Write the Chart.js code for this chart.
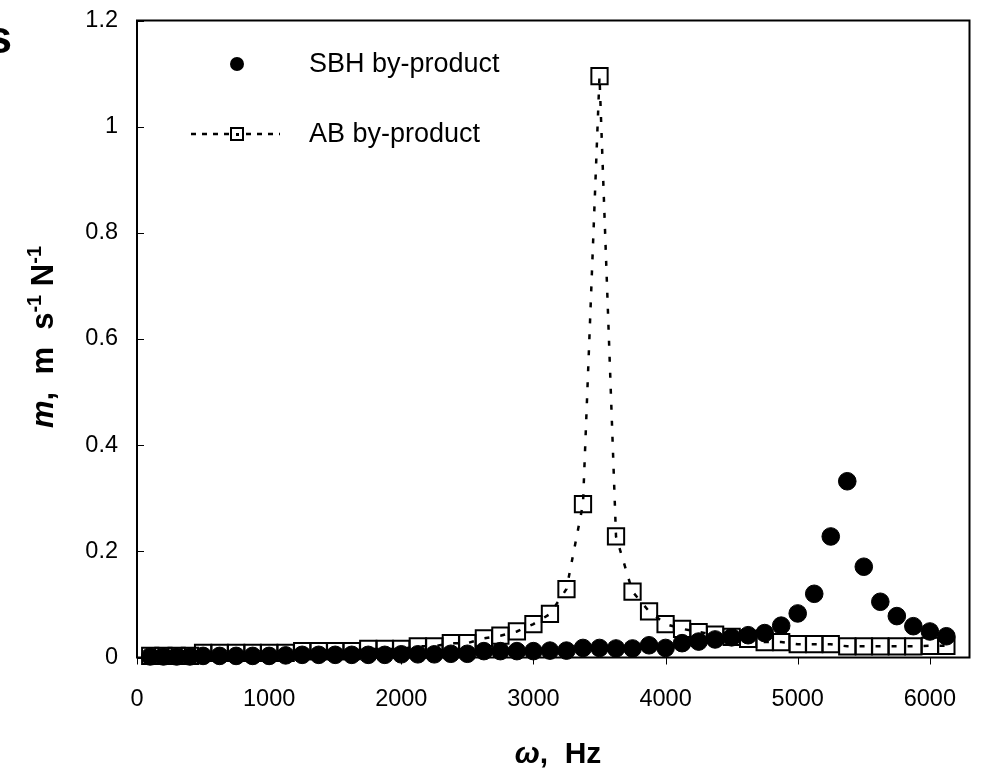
<!DOCTYPE html>
<html>
<head>
<meta charset="utf-8">
<script src="https://cdn.jsdelivr.net/npm/chart.js@4.4.0/dist/chart.umd.min.js"></script>
<style>
  html, body { margin: 0; padding: 0; background: #fff; }
  canvas { display: block; }
</style>
</head>
<body>
<canvas id="mobChart" width="983" height="768"></canvas>
<script>
// excitation frequency, Hz
var freqHz = [100, 200, 300, 400, 500, 625, 750, 875, 1000, 1125,
  1250, 1375, 1500, 1625, 1750, 1875, 2000, 2125, 2250, 2375,
  2500, 2625, 2750, 2875, 3000, 3125, 3250, 3375, 3500, 3625,
  3750, 3875, 4000, 4125, 4250, 4375, 4500, 4625, 4750, 4875,
  5000, 5125, 5250, 5375, 5500, 5625, 5750, 5875, 6000, 6125];

// mobility, m s-1 N-1
var sbhMob = [0.002, 0.002, 0.002, 0.002, 0.003, 0.003, 0.003, 0.003, 0.003, 0.004,
  0.005, 0.005, 0.005, 0.005, 0.005, 0.005, 0.006, 0.006, 0.006, 0.007,
  0.007, 0.012, 0.012, 0.012, 0.012, 0.013, 0.013, 0.018, 0.018, 0.017,
  0.017, 0.023, 0.018, 0.027, 0.030, 0.034, 0.038, 0.042, 0.046, 0.060,
  0.083, 0.120, 0.228, 0.332, 0.171, 0.105, 0.078, 0.059, 0.049, 0.040];

var abMob = [0.003, 0.003, 0.003, 0.003, 0.0085, 0.0085, 0.0085, 0.0085, 0.0085, 0.0085,
  0.012, 0.012, 0.012, 0.012, 0.016, 0.016, 0.016, 0.021, 0.021, 0.027,
  0.027, 0.036, 0.041, 0.049, 0.063, 0.082, 0.129, 0.289, 1.095, 0.228,
  0.124, 0.087, 0.063, 0.054, 0.048, 0.043, 0.039, 0.035, 0.029, 0.029,
  0.025, 0.025, 0.025, 0.021, 0.021, 0.021, 0.021, 0.021, 0.022, 0.022];

var xTicks = [0, 1000, 2000, 3000, 4000, 5000, 6000];
var yTicks = [0, 0.2, 0.4, 0.6, 0.8, 1, 1.2];

var seriesNames = ['SBH by-product', 'AB by-product'];

var FONT = '"Liberation Sans", Arial, sans-serif';

function toPoints(ys) {
  return freqHz.map(function (f, i) { return { x: f, y: ys[i] }; });
}

// draw a run of text pieces with their own fonts / offsets, centred on 0
function richText(ctx, parts) {
  var total = 0;
  parts.forEach(function (p) { ctx.font = p.font; p.w = ctx.measureText(p.text).width; total += p.w; });
  var x = -total / 2;
  parts.forEach(function (p) {
    ctx.font = p.font;
    ctx.fillText(p.text, x, p.dy || 0);
    x += p.w;
  });
}

var decor = {
  id: 'decor',
  beforeDraw: function (chart) {
    var ctx = chart.ctx;
    ctx.save();
    ctx.fillStyle = '#fff';
    ctx.fillRect(0, 0, chart.width, chart.height);
    ctx.restore();
  },
  beforeDatasetsDraw: function (chart) {
    var ctx = chart.ctx, a = chart.chartArea;
    var xs = chart.scales.x, ys = chart.scales.y;
    ctx.save();
    ctx.strokeStyle = '#000';
    ctx.lineWidth = 1;
    // y ticks point inwards, x ticks outwards
    yTicks.forEach(function (v) {
      var y = Math.round(ys.getPixelForValue(v)) + 0.5;
      ctx.beginPath(); ctx.moveTo(a.left, y); ctx.lineTo(a.left + 7, y); ctx.stroke();
    });
    xTicks.forEach(function (v) {
      var x = Math.round(xs.getPixelForValue(v)) + 0.5;
      ctx.beginPath(); ctx.moveTo(x, a.bottom); ctx.lineTo(x, a.bottom + 7); ctx.stroke();
    });
    ctx.lineWidth = 2;
    ctx.strokeRect(a.left, a.top, a.right - a.left, a.bottom - a.top);
    ctx.restore();
  },
  afterDraw: function (chart) {
    var ctx = chart.ctx;
    var ds = chart.data.datasets;
    ctx.save();
    ctx.fillStyle = '#000';
    ctx.textBaseline = 'alphabetic';

    // y axis title
    ctx.save();
    ctx.translate(53, 337);
    ctx.rotate(-Math.PI / 2);
    richText(ctx, [
      { text: 'm', font: 'italic bold 31px ' + FONT },
      { text: ',  m  s', font: 'bold 31px ' + FONT },
      { text: '-1', font: 'bold 20px ' + FONT, dy: -12 },
      { text: ' N', font: 'bold 31px ' + FONT },
      { text: '-1', font: 'bold 20px ' + FONT, dy: -12 }
    ]);
    ctx.restore();

    // x axis title
    ctx.save();
    ctx.translate(558, 763);
    richText(ctx, [
      { text: '\u03c9', font: 'italic bold 30px ' + FONT },
      { text: ',  Hz', font: 'bold 30px ' + FONT }
    ]);
    ctx.restore();

    // panel letter at the page edge
    ctx.font = 'bold 46px ' + FONT;
    ctx.textAlign = 'right';
    ctx.fillText('s', 12, 53);
    ctx.textAlign = 'left';

    // legend
    ctx.fillStyle = ds[0].pointBackgroundColor;
    ctx.beginPath();
    ctx.arc(237, 64, 7, 0, Math.PI * 2);
    ctx.fill();

    ctx.strokeStyle = ds[1].borderColor;
    ctx.lineWidth = 2.5;
    ctx.setLineDash([5, 6]);
    ctx.beginPath(); ctx.moveTo(191, 134); ctx.lineTo(280, 134); ctx.stroke();
    ctx.setLineDash([]);
    ctx.lineWidth = 2;
    ctx.fillStyle = '#fff';
    ctx.fillRect(231, 128, 12, 12);
    ctx.strokeRect(231, 128, 12, 12);
    ctx.fillStyle = '#000';
    ctx.fillRect(236, 133, 3, 3);

    ctx.font = '27px ' + FONT;
    ctx.textBaseline = 'middle';
    ctx.fillText(seriesNames[0], 309, 65);
    ctx.fillText(seriesNames[1], 309, 135);
    ctx.restore();
  }
};

new Chart(document.getElementById('mobChart'), {
  type: 'scatter',
  data: {
    datasets: [{
      label: seriesNames[0],
      data: toPoints(sbhMob),
      showLine: false,
      pointStyle: 'circle',
      pointRadius: 8.8,
      pointBorderWidth: 1,
      pointBackgroundColor: '#000',
      pointBorderColor: '#000',
      clip: false
    }, {
      label: seriesNames[1],
      data: toPoints(abMob),
      showLine: true,
      tension: 0,
      borderColor: '#000',
      borderWidth: 2.5,
      borderDash: [5, 11],
      pointStyle: 'rect',
      pointRadius: 11.5,
      pointBorderWidth: 2,
      pointBackgroundColor: 'rgba(0,0,0,0)',
      pointBorderColor: '#000',
      clip: false
    }]
  },
  options: {
    responsive: false,
    animation: false,
    events: [],
    layout: { padding: { top: 20.5, right: 5, left: 0, bottom: 0 } },
    plugins: { legend: { display: false }, tooltip: { enabled: false } },
    scales: {
      x: {
        type: 'linear',
        min: 0,
        max: 6300,
        grid: { display: false, drawTicks: false },
        border: { display: false },
        afterBuildTicks: function (s) { s.ticks = xTicks.map(function (v) { return { value: v }; }); },
        afterFit: function (s) { s.height = 110.5; s.paddingLeft = 0; s.paddingRight = 0; },
        ticks: {
          padding: 28,
          color: '#000',
          font: { family: FONT, size: 23.5 },
          maxRotation: 0,
          callback: function (v) { return String(v); }
        }
      },
      y: {
        min: 0,
        max: 1.2,
        grid: { display: false, drawTicks: false },
        border: { display: false },
        afterBuildTicks: function (s) { s.ticks = yTicks.map(function (v) { return { value: v }; }); },
        afterFit: function (s) { s.width = 137; s.paddingTop = 0; s.paddingBottom = 0; },
        ticks: {
          padding: 19,
          color: '#000',
          font: { family: FONT, size: 23.5 },
          callback: function (v) { return String(parseFloat(v.toFixed(1))); }
        }
      }
    }
  },
  plugins: [decor]
});
</script>
</body>
</html>
